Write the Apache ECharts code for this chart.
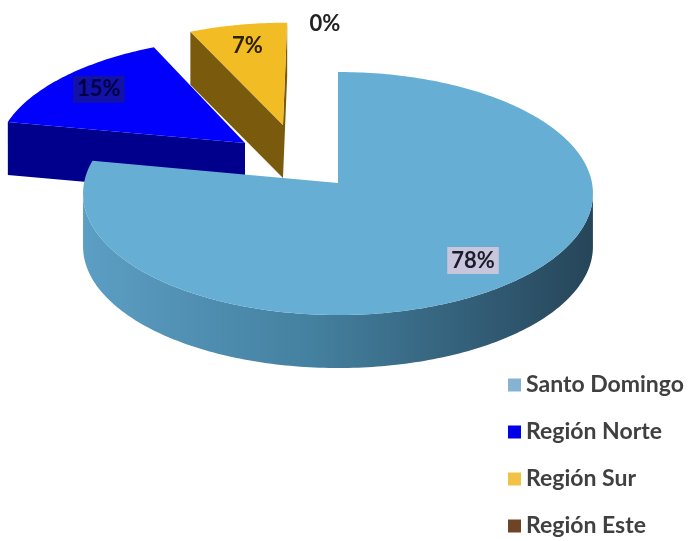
<!DOCTYPE html>
<html>
<head>
<meta charset="utf-8">
<script src="https://cdn.jsdelivr.net/npm/echarts@6/dist/echarts.min.js"></script>
<style>
html,body{margin:0;padding:0;background:#ffffff;}
#chart{width:691px;height:541px;}
</style>
</head>
<body>
<div id="chart"></div>
<script>
// ---- data ----
const categories = ['Santo Domingo', 'Región Norte', 'Región Sur', 'Región Este'];
const values = [78, 15, 7, 0];
const percentLabels = ['78%', '15%', '7%', '0%'];

// ---- styles ----
const topColors = ['#66aed4', '#0000fc', '#f1bc24', '#7b4a26'];
const sideColors = ['#3f7c9c', '#00008c', '#7a5b0e', '#5a3a1c'];
const legendColors = ['#86b3d1', '#0000e6', '#f0c347', '#6e4426'];
const explodeXY = [[0, 0], [-0.377, -0.342], [-0.226, -0.502], [0, 0]];
const labelR = [0.79, 0.8, 0.78, 1.49];
const labelDX = [0, 0, 0, -13];
const labelBg = ['#c8c5dc', '#1212a8', null, null];
const labelColor = ['#1b1b2b', '#000040', '#2b2000', '#222222'];

const CX = 338, CY = 183, RX = 254, RY = 120.6, K = 0.0864, DEPTH = 53;
const CAM = 1 / K;

function proj(X, Y, dz) {
  const s = 1 / (1 - K * Y);
  return [CX + RX * X * s, CY + RY * Y * s + dz];
}

const total = values.reduce((a, b) => a + b, 0);

function renderItem(params, api) {
  const i = params.dataIndex;
  let before = 0;
  for (let j = 0; j < i; j++) before += values[j];
  const v = api.value(0);
  const a0 = before / total * Math.PI * 2;
  const a1 = (before + v) / total * Math.PI * 2;
  const ox = explodeXY[i][0], oy = explodeXY[i][1];
  const base = (ox === 0 && oy === 0) ? 20 : i * 3;
  const children = [];

  if (a1 - a0 > 1e-6) {
    const N = Math.max(2, Math.ceil((a1 - a0) / (Math.PI / 180)));
    const rim = [];
    for (let j = 0; j <= N; j++) {
      const t = a0 + (a1 - a0) * j / N;
      rim.push({ t: t, X: ox + Math.sin(t), Y: oy - Math.cos(t) });
    }
    // outer wall (visible part)
    let seg = [];
    const segs = [];
    rim.forEach(p => {
      const nx = Math.sin(p.t), ny = -Math.cos(p.t);
      const vis = (0 - p.X) * nx + (CAM - p.Y) * ny > 0;
      if (vis) seg.push(p); else { if (seg.length > 1) segs.push(seg); seg = []; }
    });
    if (seg.length > 1) segs.push(seg);
    segs.forEach(sg => {
      const pts = [];
      sg.forEach(p => pts.push(proj(p.X, p.Y, 0)));
      for (let j = sg.length - 1; j >= 0; j--) pts.push(proj(sg[j].X, sg[j].Y, DEPTH));
      const fill = i === 0 ? new echarts.graphic.LinearGradient(0, 0, 1, 0, [
        { offset: 0, color: '#5c9ec4' },
        { offset: 0.45, color: '#44809f' },
        { offset: 1, color: '#264559' }
      ]) : sideColors[i];
      children.push({ type: 'polygon', z2: base, shape: { points: pts }, style: { fill: fill } });
    });
    // radial faces
    const faces = [
      { ang: a0, n: [-Math.cos(a0), -Math.sin(a0)] },
      { ang: a1, n: [Math.cos(a1), Math.sin(a1)] }
    ];
    if (a1 - a0 < Math.PI * 2 - 1e-6) {
      faces.forEach(f => {
        const vis = (0 - ox) * f.n[0] + (CAM - oy) * f.n[1] > 1e-6;
        if (!vis) return;
        const rx = ox + Math.sin(f.ang), ry = oy - Math.cos(f.ang);
        const pts = [proj(ox, oy, 0), proj(rx, ry, 0), proj(rx, ry, DEPTH), proj(ox, oy, DEPTH)];
        children.push({ type: 'polygon', z2: base, shape: { points: pts }, style: { fill: sideColors[i] } });
      });
    }
    // top face
    const topPts = [proj(ox, oy, 0)];
    rim.forEach(p => topPts.push(proj(p.X, p.Y, 0)));
    children.push({ type: 'polygon', z2: base + 1, shape: { points: topPts }, style: { fill: topColors[i] } });
  }

  // label
  const mid = (a0 + a1) / 2;
  const lp = proj(ox + labelR[i] * Math.sin(mid), oy - labelR[i] * Math.cos(mid), 0);
  const st = {
    text: percentLabels[i],
    fill: labelColor[i],
    font: 'bold 22px Lato',
    align: 'center',
    verticalAlign: 'middle'
  };
  if (labelBg[i]) { st.backgroundColor = labelBg[i]; st.padding = [3, 4, 2, 4]; }
  children.push({ type: 'text', z2: 100, x: lp[0] + labelDX[i], y: lp[1], style: st });

  return { type: 'group', children: children };
}

const chart = echarts.init(document.getElementById('chart'), null, { renderer: 'canvas' });
chart.setOption({
  backgroundColor: '#ffffff',
  animation: false,
  legend: {
    type: 'plain',
    orient: 'vertical',
    left: 508,
    top: 373,
    width: 183,
    height: 200,
    padding: 0,
    itemWidth: 13,
    itemHeight: 13,
    itemGap: 23,
    icon: 'rect',
    selectedMode: false,
    data: categories,
    textStyle: { fontFamily: 'Lato', fontWeight: 'bold', fontSize: 23, color: '#404040', lineHeight: 24 }
  },
  series: [
    {
      type: 'pie',
      radius: [0, 0],
      center: [-50, -50],
      silent: true,
      label: { show: false },
      labelLine: { show: false },
      emphasis: { disabled: true },
      data: categories.map((c, i) => ({ name: c, value: values[i], itemStyle: { color: legendColors[i] } }))
    },
    {
      type: 'custom',
      coordinateSystem: 'none',
      silent: true,
      renderItem: renderItem,
      data: values.map(v => [v])
    }
  ]
});
</script>
</body>
</html>
